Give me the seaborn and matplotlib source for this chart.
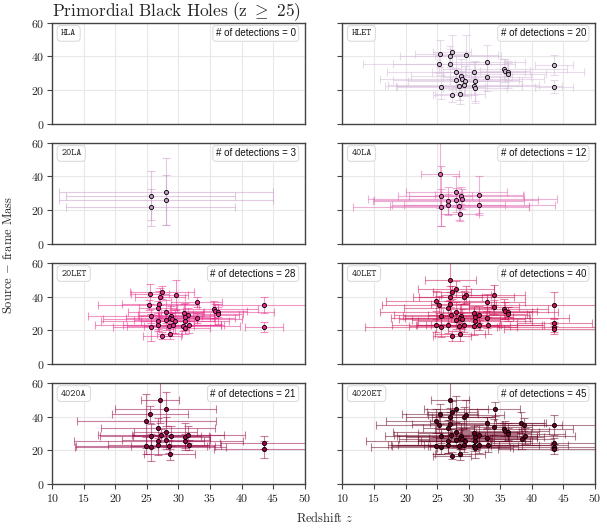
import numpy as np
import pandas as pd
import matplotlib
matplotlib.use("Agg")
import matplotlib.pyplot as plt
import seaborn as sns

# -----------------------------------------------------------------------------
# Data: injected sources (redshift, source-frame mass)
# -----------------------------------------------------------------------------

src_z = [25.5, 27.4, 27.1, 29.6, 25.3, 27.0, 26.8, 32.9, 35.6, 35.8, 36.2, 36.3,
         43.5, 43.5, 28.0, 25.6, 28.8, 28.7, 30.9, 31.6, 31.0, 32.9, 26.8, 28.0,
         29.0, 29.4, 31.0, 29.2, 28.5, 26.8, 25.6, 30.8, 31.7, 31.0, 27.4, 28.6,
         27.1, 28.0, 29.2, 24.9, 34.0, 34.0, 43.6, 43.6, 27.2, 24.8, 33.0, 34.1,
         38.3, 38.8, 38.9, 38.4]
src_m = [41.5, 42.5, 40.0, 41.0, 35.2, 35.6, 33.2, 36.5, 32.5, 31.5, 31.0, 29.5,
         35.0, 22.0, 31.0, 28.5, 28.5, 27.2, 30.5, 29.2, 28.0, 27.5, 25.5, 26.0,
         26.5, 25.3, 25.5, 23.2, 22.3, 23.3, 21.8, 22.3, 23.2, 21.5, 16.8, 17.5,
         50.0, 44.5, 39.5, 37.5, 41.0, 33.8, 24.5, 20.5, 28.8, 22.8, 23.0, 44.5,
         36.5, 35.3, 28.5, 26.5]

detectors = ["HLA", "HLET", "20LA", "40LA", "20LET", "40LET", "4020A", "4020ET"]
n_detections = [0, 20, 3, 12, 28, 40, 21, 45]
colors = ["#e7e1ef", "#d4b9da", "#c994c7", "#df65b0",
          "#e7298a", "#ce1256", "#980043", "#67001f"]

# detected sources and their 1-sigma errors per network
hla_idx, hla_dz, hla_dm = [], [], []

hlet_idx = [0, 1, 2, 3, 4, 5, 7, 8, 9, 10, 11, 12, 13, 14, 16, 18, 21, 23, 24, 25,
            26, 27, 28, 30, 31, 33, 34, 35]
hlet_dz = [4, 3, 8, 5, 12, 9, 6, 10, 4, 12, 6, 3, 3, 11, 8, 5, 7, 10, 13, 9,
           4, 12, 10, 7, 14, 5, 3, 4]
hlet_dm = [8, 10, 6, 12, 5, 9, 10, 6, 7, 5, 8, 6, 4, 9, 10, 6, 8, 7, 5, 9,
           12, 6, 8, 7, 5, 9, 4, 6]

la20_idx = [15, 30, 14, 23]
la20_dz = [13.4, 13.4, 17, 17]
la20_dm = [14.5, 11, 19.8, 15]

la40_idx = [0, 15, 30, 22, 29, 14, 16, 23, 24, 28, 35, 19, 32]
la40_dz = [3, 5, 14, 12, 9, 8, 10, 13, 15, 11, 3, 7, 12]
la40_dm = [20, 18, 11, 8, 6, 9, 5, 7, 6, 8, 4, 11, 6]

let20_idx = list(range(36))
let20_dz = [3, 5, 4, 2, 8, 6, 3, 4, 7, 5, 9, 4, 8, 3, 6, 10, 5, 7, 3, 8,
            4, 6, 9, 5, 11, 3, 7, 8, 4, 10, 6, 9, 5, 4, 3, 2]
let20_dm = [6, 4, 5, 9, 3, 8, 4, 3, 5, 4, 3, 6, 5, 3, 7, 4, 6, 3, 5, 4,
            8, 3, 5, 6, 4, 7, 3, 5, 6, 4, 8, 3, 5, 4, 2, 3]

let40_idx = [36, 37, 1, 2, 3, 38, 39, 4, 5, 6, 40, 7, 41, 8, 9, 10, 11, 12, 13, 42,
             43, 14, 15, 44, 16, 17, 23, 24, 18, 19, 20, 21, 26, 31, 32, 45, 30, 29,
             28, 27, 34, 35, 46]
let40_dz = [4, 6, 3, 5, 4, 8, 8, 9, 3, 7, 5, 6, 4, 7, 5, 8, 3, 10, 9, 6,
            8, 12, 6, 9, 4, 11, 7, 10, 5, 8, 6, 13, 9, 4, 10, 7, 12, 5, 8, 6,
            3, 4, 9]
let40_dm = [12, 5, 4, 6, 5, 4, 6, 5, 7, 4, 6, 5, 4, 6, 5, 3, 4, 8, 3, 2,
            3, 6, 5, 4, 7, 3, 5, 6, 4, 5, 3, 6, 4, 5, 3, 4, 6, 5, 3, 4,
            3, 4, 5]

a4020_idx = [36, 37, 0, 39, 6, 14, 23, 15, 44, 16, 20, 19, 26, 32, 22, 29, 30, 45,
             28, 35, 42, 43]
a4020_dz = [3, 8, 6, 11, 9, 5, 7, 8, 10, 6, 4, 9, 3, 5, 13.4, 8, 12, 11, 6, 4, 7, 8]
a4020_dm = [14, 10, 5, 16, 6, 9, 5, 7, 4, 6, 8, 5, 4, 3, 3, 6, 8, 5, 4, 3, 4, 5]

et4020_idx = [36, 37, 0, 1, 2, 38, 3, 39, 4, 47, 7, 41, 8, 9, 10, 11, 48, 49, 50, 51,
              12, 42, 13, 43, 5, 6, 14, 15, 16, 17, 18, 19, 20, 21, 22, 23, 24, 25,
              26, 27, 28, 29, 30, 31, 32, 33, 34, 35, 44, 45, 46]
et4020_dz = [3, 5, 6, 4, 7, 5, 6, 8, 10, 4, 9, 6, 11, 7, 5, 9, 4, 6, 8, 5,
             8, 10, 12, 9, 6, 4, 10, 7, 12, 5, 9, 6, 11, 8, 13, 6, 10, 7, 9, 12,
             5, 8, 11, 7, 14, 6, 3, 4, 9, 7, 10]
et4020_dm = [12, 8, 6, 7, 5, 6, 9, 7, 5, 4, 3, 5, 4, 6, 5, 4, 6, 4, 5, 6,
             6, 3, 2, 3, 7, 5, 6, 4, 8, 5, 4, 6, 3, 5, 7, 4, 6, 3, 5, 4,
             6, 5, 4, 3, 5, 6, 2, 3, 4, 5, 4]

panels = [
    (hla_idx, hla_dz, hla_dm),
    (hlet_idx, hlet_dz, hlet_dm),
    (la20_idx, la20_dz, la20_dm),
    (la40_idx, la40_dz, la40_dm),
    (let20_idx, let20_dz, let20_dm),
    (let40_idx, let40_dz, let40_dm),
    (a4020_idx, a4020_dz, a4020_dm),
    (et4020_idx, et4020_dz, et4020_dm),
]

# -----------------------------------------------------------------------------
# Style
# -----------------------------------------------------------------------------

sns.set_theme(style="ticks")
plt.rcParams["font.family"] = ["cmr10", "DejaVu Serif"]
plt.rcParams["mathtext.fontset"] = "cm"
plt.rcParams["axes.formatter.use_mathtext"] = True
plt.rcParams["axes.edgecolor"] = "#444444"
plt.rcParams["axes.linewidth"] = 1.0
plt.rcParams["xtick.color"] = "#444444"
plt.rcParams["ytick.color"] = "#444444"
plt.rcParams["xtick.labelcolor"] = "#222222"
plt.rcParams["ytick.labelcolor"] = "#222222"

# -----------------------------------------------------------------------------
# Plot
# -----------------------------------------------------------------------------

fig, axs = plt.subplots(4, 2, figsize=(6.07, 5.30), dpi=100, sharex=True, sharey=True)
fig.subplots_adjust(left=0.086, right=0.980, top=0.957, bottom=0.087,
                    wspace=0.15, hspace=0.19)

for k, ax in enumerate(axs.flat):
    idx, dz, dm = panels[k]
    c = colors[k]
    df = pd.DataFrame({
        "z": [src_z[i] for i in idx],
        "mass": [src_m[i] for i in idx],
        "dz": dz,
        "dm": dm,
    })
    ax.grid(True, color="#e8e8e8", lw=0.8, zorder=0)
    ax.set_axisbelow(True)
    if len(df) > 0:
        ax.errorbar(df["z"], df["mass"], xerr=df["dz"], yerr=df["dm"], fmt="none",
                    ecolor=c, elinewidth=0.8, capsize=2.8, capthick=0.8,
                    alpha=0.5, zorder=2)
        sns.scatterplot(x="z", y="mass", data=df, color=c, edgecolor="black",
                        s=9, linewidth=0.6, ax=ax, zorder=3, legend=False)
    ax.set(xlabel="", ylabel="")
    ax.set_xlim(10, 50)
    ax.set_ylim(0, 60)
    ax.set_xticks(np.arange(10, 51, 5))
    ax.set_yticks([0, 20, 40, 60])
    ax.tick_params(axis="both", labelsize=8.5, length=3.5, width=0.8, pad=2)
    if k < 6:
        ax.tick_params(axis="x", length=0)
    for sp in ax.spines.values():
        sp.set_visible(True)

    ax.text(0.035, 0.895, detectors[k], transform=ax.transAxes, ha="left", va="center",
            fontsize=7, family="cmtt10", color="#222222",
            bbox=dict(boxstyle="round,pad=0.4", fc="white", ec="#dddddd", lw=0.8))
    ax.text(0.965, 0.895, "# of detections = %d" % n_detections[k],
            transform=ax.transAxes, ha="right", va="center", fontsize=7,
            family=["Liberation Sans", "DejaVu Sans"], color="#111111",
            bbox=dict(boxstyle="round,pad=0.3", fc="white", ec="#dddddd", lw=0.8))

axs[0, 0].set_title(r"$\mathrm{Primordial\ Black\ Holes\ (z\ \geq\ 25)}$", loc="left",
                    fontsize=12.5, pad=3)
fig.text(0.014, 0.52, r"Source $-$ frame Mass", rotation=90, ha="center",
         va="center", fontsize=9)
fig.text(0.535, 0.022, r"Redshift $z$", ha="center", va="center", fontsize=9)

fig.savefig("out.png", dpi=100)
